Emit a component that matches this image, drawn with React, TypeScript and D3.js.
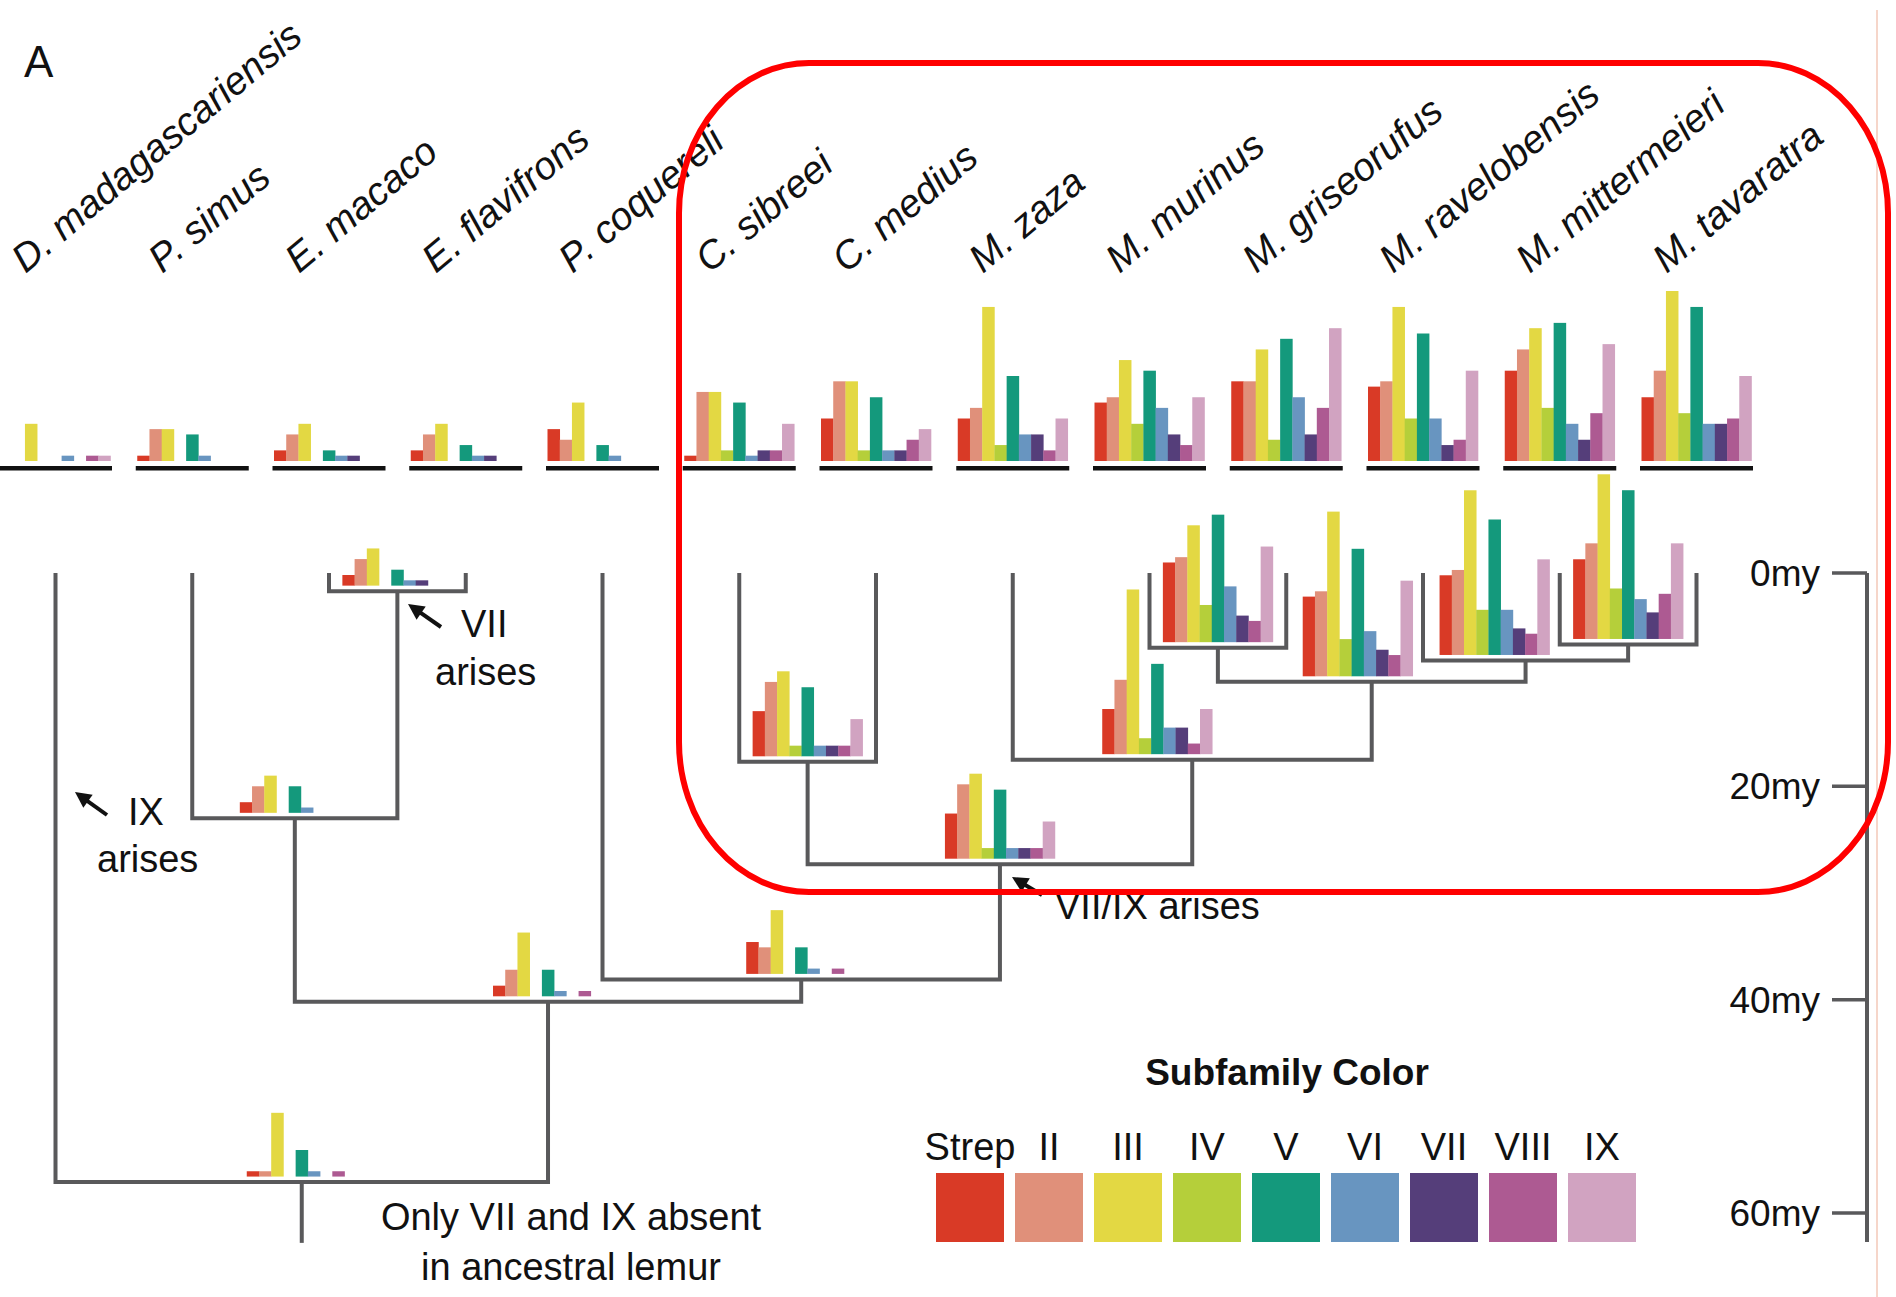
import React from "react";
import * as d3 from "d3";

const W = 1896;
const H = 1297;

const subfamilies = ["Strep", "II", "III", "IV", "V", "VI", "VII", "VIII", "IX"];
const subfamilyColors = ["#d93a26", "#e0907a", "#e3d843", "#b5cf3a", "#14997c", "#6895c0", "#553e7a", "#ad5a92", "#d1a3c1"];

const species = [
  "D. madagascariensis", "P. simus", "E. macaco", "E. flavifrons", "P. coquereli",
  "C. sibreei", "C. medius", "M. zaza", "M. murinus", "M. griseorufus",
  "M. ravelobensis", "M. mittermeieri", "M. tavaratra",
];

// gene counts per subfamily (Strep, II ... IX) for each living species
const tipCounts = [
  [0, 0, 7, 0, 0, 1, 0, 1, 1],
  [1, 6, 6, 0, 5, 1, 0, 0, 0],
  [2, 5, 7, 0, 2, 1, 1, 0, 0],
  [2, 5, 7, 0, 3, 1, 1, 0, 0],
  [6, 4, 11, 0, 3, 1, 0, 0, 0],
  [1, 13, 13, 2, 11, 1, 2, 2, 7],
  [8, 15, 15, 2, 12, 2, 2, 4, 6],
  [8, 10, 29, 3, 16, 5, 5, 2, 8],
  [11, 12, 19, 7, 17, 10, 5, 3, 12],
  [15, 15, 21, 4, 23, 12, 5, 10, 25],
  [14, 15, 29, 8, 24, 8, 3, 4, 17],
  [17, 21, 25, 10, 26, 7, 4, 9, 22],
  [12, 17, 32, 9, 29, 7, 7, 8, 16],
];

// ancestral nodes
const nodeIds = ["root", "n40", "n23", "nEul", "n38", "n27", "nCh", "nMic", "n10", "n7", "n8", "n6"];
const nodeAges = [57.1, 40.2, 23.0, 1.7, 38.1, 27.3, 17.7, 17.5, 10.2, 7.0, 8.2, 6.7];
const nodeChildren = [
  ["D. madagascariensis", "n40"],
  ["n23", "n38"],
  ["P. simus", "nEul"],
  ["E. macaco", "E. flavifrons"],
  ["P. coquereli", "n27"],
  ["nCh", "nMic"],
  ["C. sibreei", "C. medius"],
  ["M. zaza", "n10"],
  ["n7", "n8"],
  ["M. murinus", "M. griseorufus"],
  ["M. ravelobensis", "n6"],
  ["M. mittermeieri", "M. tavaratra"],
];
const nodeCounts = [
  [1, 1, 12, 0, 5, 1, 0, 1, 0],
  [2, 5, 12, 0, 5, 1, 0, 1, 0],
  [2, 5, 7, 0, 5, 1, 0, 0, 0],
  [2, 5, 7, 0, 3, 1, 1, 0, 0],
  [6, 5, 12, 0, 5, 1, 0, 1, 0],
  [8.5, 14, 16, 2, 13, 2, 2, 2, 7],
  [8.5, 14, 16, 2, 13, 2, 2, 2, 7],
  [8.5, 14, 31, 3, 17, 5, 5, 2, 8.5],
  [15, 16, 31, 7, 24, 8.5, 5, 4, 18],
  [15, 16, 22, 7, 24, 10.5, 5, 4, 18],
  [15, 16, 31, 8.5, 25.5, 8.5, 5, 4, 18],
  [15, 18, 31, 9.5, 28, 7.5, 5, 8.5, 18],
];
const rootStemAge = 62.8;
const ageTicks = [0, 20, 40, 60];

// layout-only tweaks: horizontal shift of some ancestral bar charts
const nodeBarShift: Record<string, number> = { nMic: -35, n10: -14, n8: -31 };

const FONT = "'Liberation Sans', Arial, Helvetica, sans-serif";
const TREE = "#59595b";

type TNode = { id: string; age: number; counts: number[]; children?: TNode[]; tipIndex?: number };

function buildTree(): TNode {
  const make = (id: string): TNode => {
    const ti = species.indexOf(id);
    if (ti >= 0) return { id, age: 0, counts: tipCounts[ti], tipIndex: ti };
    const ni = nodeIds.indexOf(id);
    return { id, age: nodeAges[ni], counts: nodeCounts[ni], children: nodeChildren[ni].map(make) };
  };
  return make("root");
}

function arrowHead(x1: number, y1: number, x2: number, y2: number, len = 16, half = 8) {
  const a = Math.atan2(y2 - y1, x2 - x1);
  const bx = x2 - len * Math.cos(a);
  const by = y2 - len * Math.sin(a);
  const px = -Math.sin(a) * half;
  const py = Math.cos(a) * half;
  return `M${x2},${y2}L${bx + px},${by + py}L${bx - px},${by - py}Z`;
}

function Arrow({ x1, y1, x2, y2 }: { x1: number; y1: number; x2: number; y2: number }) {
  const a = Math.atan2(y2 - y1, x2 - x1);
  const ex = x2 - 12 * Math.cos(a);
  const ey = y2 - 12 * Math.sin(a);
  return (
    <g>
      <line x1={x1} y1={y1} x2={ex} y2={ey} stroke="#111" strokeWidth={4} />
      <path d={arrowHead(x1, y1, x2, y2)} fill="#111" />
    </g>
  );
}

export default function App() {
  const xTip = d3.scaleLinear().domain([0, species.length - 1]).range([55.5, 1696.5]);
  const yAge = d3.scaleLinear().domain([0, 60]).range([573, 1213]);
  const hScale = d3.scaleLinear().domain([0, 32]).range([0, 170]);
  const band = d3.scaleBand<string>().domain(subfamilies).range([-55, 55]).padding(0);
  const color = d3.scaleOrdinal<string, string>().domain(subfamilies).range(subfamilyColors);

  const root = d3.hierarchy<TNode>(buildTree(), (d) => d.children);
  const xPos = new Map<TNode, number>();
  root.eachAfter((n) => {
    if (n.data.tipIndex !== undefined) xPos.set(n.data, xTip(n.data.tipIndex));
    else xPos.set(n.data, d3.mean(n.children!.map((c) => xPos.get(c.data)!))!);
  });

  const bars = (counts: number[], cx: number, base: number, key: string) =>
    counts.map((v, i) =>
      v > 0 ? (
        <rect
          key={key + i}
          x={cx + band(subfamilies[i])!}
          y={base - hScale(v)}
          width={band.bandwidth() + 0.3}
          height={hScale(v)}
          fill={color(subfamilies[i])}
        />
      ) : null
    );

  const internal = root.descendants().filter((n) => n.children);
  const tips = root.leaves();

  return (
    <svg width={W} height={H} style={{ position: "absolute", left: 0, top: 0, background: "#fff" }} fontFamily={FONT}>
      <rect x={0} y={0} width={W} height={H} fill="#fff" />
      <line x1={1877} y1={10} x2={1877} y2={H} stroke="#f3c9b8" strokeWidth={1.5} />

      <text x={24} y={77} fontSize={44} fill="#111">A</text>

      {/* tree branches */}
      <g fill="none" stroke={TREE} strokeWidth={4} strokeLinejoin="miter">
        {internal.map((n) => {
          const [a, b] = n.children!;
          const yN = yAge(n.data.age);
          const d = `M${xPos.get(a.data)},${yAge(a.data.age)}V${yN}H${xPos.get(b.data)}V${yAge(b.data.age)}`;
          return <path key={n.data.id} d={d} />;
        })}
        <path d={`M${xPos.get(root.data)},${yAge(root.data.age)}V${yAge(rootStemAge)}`} />
      </g>

      {/* tip bar charts */}
      {tips.map((t) => {
        const cx = xPos.get(t.data)!;
        return (
          <g key={t.data.id}>
            {bars(t.data.counts, cx, 461, t.data.id)}
            <rect x={cx - 56.5} y={466} width={113} height={4.5} fill="#111" />
            <text
              transform={`translate(${cx - 30},${274}) rotate(-40)`}
              fontSize={39}
              fontStyle="italic"
              fill="#111"
            >
              {t.data.id}
            </text>
          </g>
        );
      })}

      {/* ancestral bar charts */}
      {internal.map((n) => {
        const cx = xPos.get(n.data)! + (nodeBarShift[n.data.id] || 0);
        return <g key={"b" + n.data.id}>{bars(n.data.counts, cx, yAge(n.data.age) - 5.5, n.data.id)}</g>;
      })}

      {/* annotations */}
      <g fontSize={38} fill="#111">
        <Arrow x1={441} y1={627} x2={408} y2={604} />
        <text x={461} y={637}>VII</text>
        <text x={435} y={685}>arises</text>
        <Arrow x1={107} y1={815} x2={75} y2={792} />
        <text x={128} y={825}>IX</text>
        <text x={97} y={872}>arises</text>
        <Arrow x1={1042} y1={895} x2={1012} y2={877} />
        <text x={1055} y={919}>VII/IX arises</text>
        <text x={571} y={1230} textAnchor="middle">Only VII and IX absent</text>
        <text x={571} y={1280} textAnchor="middle">in ancestral lemur</text>
      </g>

      {/* time axis */}
      <g>
        <line x1={1867} y1={yAge(0)} x2={1867} y2={1242} stroke={TREE} strokeWidth={4} />
        {ageTicks.map((t) => (
          <g key={t}>
            <line x1={1832} y1={yAge(t)} x2={1867} y2={yAge(t)} stroke={TREE} strokeWidth={3.5} />
            <text x={1820} y={yAge(t)} dy="0.35em" textAnchor="end" fontSize={37} fill="#111">
              {t}my
            </text>
          </g>
        ))}
      </g>

      {/* legend */}
      <g>
        <text x={1287} y={1085} textAnchor="middle" fontSize={37} fontWeight="bold" fill="#111">
          Subfamily Color
        </text>
        {subfamilies.map((s, i) => (
          <g key={s}>
            <rect x={936 + 79 * i} y={1173} width={68} height={69} fill={color(s)} />
            <text x={970 + 79 * i} y={1160} textAnchor="middle" fontSize={38} fill="#111">
              {s}
            </text>
          </g>
        ))}
      </g>

      {/* highlight box */}
      <rect x={679} y={63} width={1209} height={829} rx={130} ry={150} fill="none" stroke="#ff0000" strokeWidth={6} />
    </svg>
  );
}
